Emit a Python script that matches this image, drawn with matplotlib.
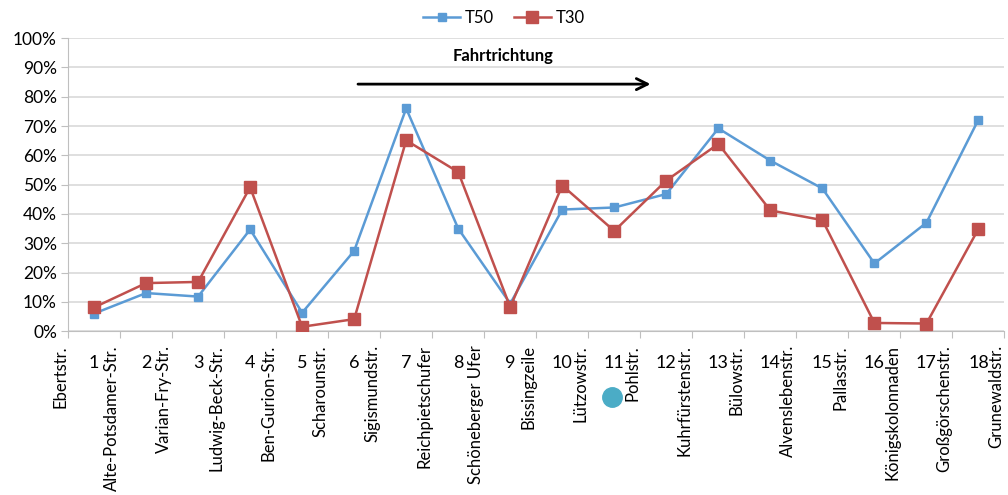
import matplotlib.pyplot as plt
from matplotlib.ticker import PercentFormatter

plt.rcParams['font.family'] = ['Lato', 'DejaVu Sans']

# data
stations = ["Ebertstr.", "Alte-Potsdamer-Str.", "Varian-Fry-Str.", "Ludwig-Beck-Str.",
            "Ben-Gurion-Str.", "Scharounstr.", "Sigismundstr.", "Reichpietschufer",
            "Schöneberger Ufer", "Bissingzeile", "Lützowstr.", "Pohlstr.",
            "Kuhrfürstenstr.", "Bülowstr.", "Alvenslebenstr.", "Pallasstr.",
            "Königskolonnaden", "Großgörschenstr.", "Grunewaldstr."]
segments = [str(i) for i in range(1, 19)]

t50 = [6.0, 13.0, 11.8, 34.7, 6.3, 27.4, 76.0, 35.0, 9.4, 41.5, 42.2, 46.8,
       69.2, 58.2, 48.7, 23.1, 37.0, 72.2]
t30 = [8.1, 16.4, 16.8, 49.1, 1.5, 4.1, 65.1, 54.3, 8.2, 49.7, 34.2, 51.4,
       63.9, 41.2, 37.9, 2.8, 2.6, 34.9]

BLUE = "#5B9BD5"
RED = "#C0504D"
GRID = "#D9D9D9"

fig = plt.figure(figsize=(10.08, 4.95), dpi=100)
ax = fig.add_axes([0.0675, 0.331, 0.929, 0.592])

xs = [i + 0.5 for i in range(len(segments))]
ax.plot(xs, t50, color=BLUE, lw=1.8, marker="s", ms=5.5, label="T50", zorder=3)
ax.plot(xs, t30, color=RED, lw=1.8, marker="s", ms=8, label="T30", zorder=3)

ax.set_xlim(0, 18)
ax.set_ylim(0, 100)
ax.set_yticks(range(0, 101, 10))
ax.yaxis.set_major_formatter(PercentFormatter(decimals=0))
ax.grid(axis="y", color=GRID, lw=1.2)
ax.set_axisbelow(True)

# station names on the boundaries, segment numbers in between
ax.set_xticks(range(len(stations)))
ax.set_xticklabels(stations, rotation=90, ha="right", va="top", fontsize=12)
ax.set_xticks(xs, minor=True)
ax.set_xticklabels(segments, minor=True, fontsize=13)
ax.tick_params(axis="x", which="major", length=5, color="#BFBFBF", pad=5)
ax.tick_params(axis="x", which="minor", length=0, pad=17)
ax.tick_params(axis="y", length=5, color="#BFBFBF", labelsize=12.5, pad=3)

for s in ["top", "right"]:
    ax.spines[s].set_visible(False)
for s in ["left", "bottom"]:
    ax.spines[s].set_color("#BFBFBF")

# direction arrow
ax.annotate("", xy=(11.25, 84.3), xytext=(5.52, 84.3),
            arrowprops=dict(arrowstyle="->", color="black", lw=2, mutation_scale=20))
ax.text(8.37, 93.9, "Fahrtrichtung", ha="center", va="center",
        fontsize=12, fontweight="bold")

# stray dot from the original slide
fig.lines.append(plt.Line2D([612 / 1008], [1 - 397 / 495], marker="o", ms=14,
                            color="#4BACC6", transform=fig.transFigure))

fig.legend(loc="upper center", bbox_to_anchor=(0.5, 1.01), ncol=2, frameon=False,
           fontsize=12, handlelength=2.2, columnspacing=1.2, handletextpad=0.3)

plt.savefig("out.png", dpi=100)
